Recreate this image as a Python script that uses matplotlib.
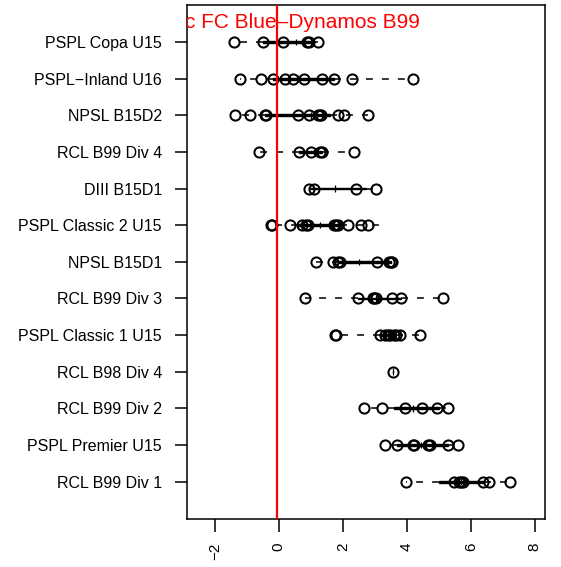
import matplotlib
matplotlib.use("Agg")
import matplotlib.pyplot as plt

plt.rcParams['font.family'] = ['Liberation Sans', 'DejaVu Sans']
plt.rcParams['lines.scale_dashes'] = False

# categories, top to bottom
categories = ["PSPL Copa U15", "PSPL\u2212Inland U16", "NPSL B15D2", "RCL B99 Div 4",
              "DIII B15D1", "PSPL Classic 2 U15", "NPSL B15D1", "RCL B99 Div 3",
              "PSPL Classic 1 U15", "RCL B98 Div 4", "RCL B99 Div 2",
              "PSPL Premier U15", "RCL B99 Div 1"]

# individual results per category (same order)
points = [
    [-1.39, -0.50, 0.14, 0.88, 0.95, 1.21],
    [-1.21, -0.55, -0.19, 0.18, 0.43, 0.79, 1.36, 1.72, 2.30, 4.19],
    [-1.37, -0.90, -0.43, -0.40, 0.61, 0.95, 1.24, 1.29, 1.32, 1.84, 2.05, 2.78],
    [-0.62, 0.63, 1.01, 1.28, 1.34, 2.36],
    [0.93, 1.11, 2.41, 3.03],
    [-0.24, -0.20, 0.35, 0.72, 0.86, 0.90, 1.74, 1.78, 1.84, 2.16, 2.56, 2.78],
    [1.17, 1.69, 1.86, 1.92, 3.08, 3.45, 3.50, 3.55],
    [0.82, 2.46, 2.94, 2.97, 3.03, 3.53, 3.82, 5.14],
    [1.77, 1.80, 3.17, 3.33, 3.42, 3.48, 3.61, 3.66, 3.79, 4.41],
    [3.58],
    [2.67, 3.22, 3.93, 4.49, 4.94, 5.28],
    [3.32, 3.69, 4.18, 4.22, 4.66, 4.72, 5.30, 5.61],
    [3.98, 5.49, 5.64, 5.70, 5.76, 6.37, 6.56, 7.24],
]

# box statistics per category (same order)
whisker_low = [-1.39, -1.21, -1.37, -0.62, 0.93, -0.24, 1.17, 0.82, 1.77, 3.58, 2.67, 3.32, 3.98]
quart_1     = [-0.50, -0.19, -0.43, 0.63, 1.02, 0.60, 1.89, 2.46, 3.15, 3.58, 3.60, 3.69, 5.00]
median      = [0.55, 0.61, 1.00, 1.10, 1.76, 1.30, 2.50, 3.03, 3.40, 3.58, 4.20, 4.45, 5.68]
quart_3     = [1.00, 1.72, 1.60, 1.35, 2.72, 1.90, 3.50, 3.82, 3.65, 3.58, 5.00, 5.30, 6.40]
whisker_hi  = [1.21, 4.19, 2.78, 2.36, 3.03, 3.30, 3.55, 5.14, 4.41, 3.58, 5.28, 5.61, 7.24]

ref_value = -0.06
ref_label = "Pacific FC Blue\u2013Dynamos B99"
x_ticks = [-2, 0, 2, 4, 6, 8]

fig = plt.figure(figsize=(5.61, 5.67), dpi=100)
ax = fig.add_axes([187/561, 1-519/567, 358/561, 514.4/567])

n = len(categories)
positions = [n - i for i in range(n)]

stats = []
for i in range(n):
    stats.append(dict(whislo=whisker_low[i], q1=quart_1[i], med=median[i],
                      q3=quart_3[i], whishi=whisker_hi[i], fliers=[]))

ax.bxp(stats, positions=positions, vert=False, widths=0.05, showcaps=False,
       showfliers=False, patch_artist=True,
       boxprops=dict(facecolor='black', edgecolor='black', linewidth=1.0),
       whiskerprops=dict(color='black', linewidth=1.1, linestyle=(0, (5, 6.5))),
       medianprops=dict(linewidth=0))

for i in range(n):
    ax.vlines(median[i], positions[i]-0.09, positions[i]+0.09, color='black', lw=0.9, zorder=3)
    ax.plot(points[i], [positions[i]]*len(points[i]), 'o', mfc='none', mec='black',
            ms=7.3, mew=1.45, zorder=4)

ax.axvline(ref_value, color='red', lw=1.6, zorder=5)
ax.text(ref_value, 13.37, ref_label, color='red', fontsize=15, ha='center',
        va='baseline', clip_on=True, zorder=6)

ax.set_xlim(-2.87, 8.32)
ax.set_ylim(-0.02, 14.02)
ax.set_yticks(positions)
ax.set_yticklabels(categories)
ax.set_xticks(x_ticks)
ax.set_xticklabels([str(t).replace('-', '\u2212') for t in x_ticks], rotation=90)
ax.tick_params(axis='y', length=9, width=1.1, pad=9, labelsize=11.5)
ax.tick_params(axis='x', length=9, width=1.1, pad=8, labelsize=11)
for s in ax.spines.values():
    s.set_linewidth(1.1)

fig.savefig("out.png", dpi=100)
